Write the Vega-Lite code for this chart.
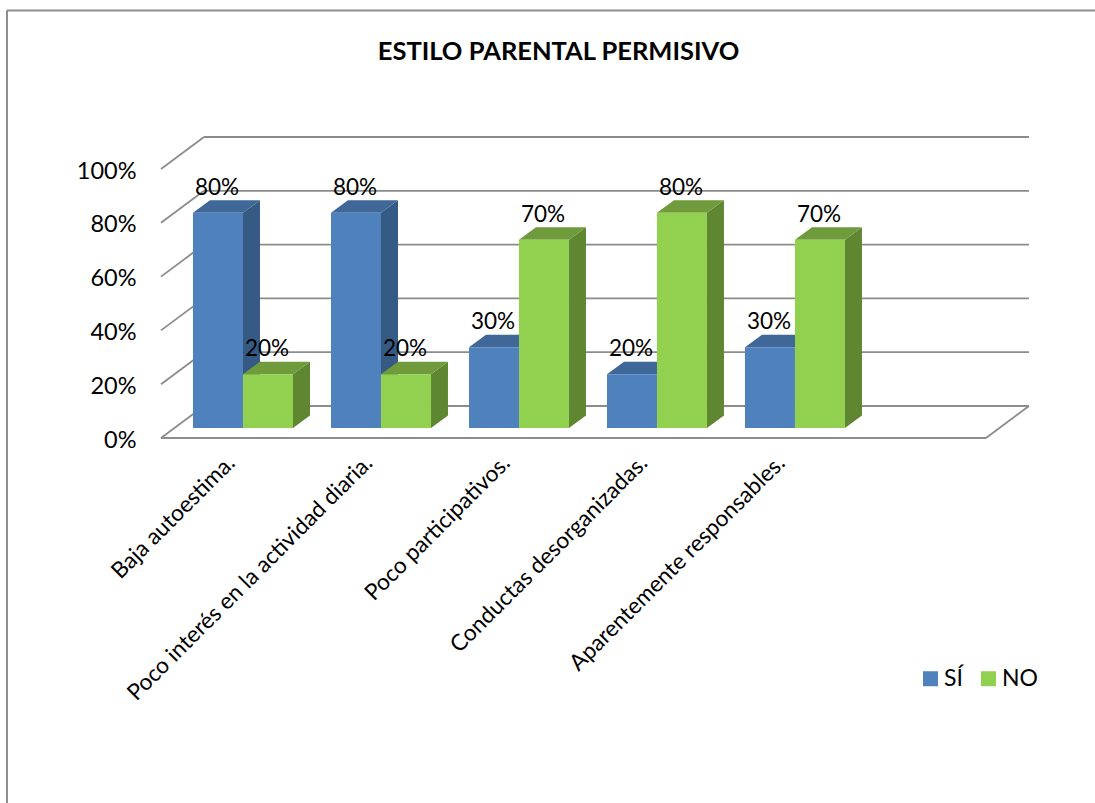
{
"$schema":"https://vega.github.io/schema/vega-lite/v6.json",
"width":825,"height":269,
"autosize":{"type":"none"},
"padding":{"left":161,"top":169,"right":109,"bottom":365},
"background":"white",
"view":{"stroke":null},
"title":{"text":"ESTILO PARENTAL PERMISIVO","font":"Lato","fontSize":25.5,"fontWeight":"bold","color":"black","anchor":"middle","dx":-15,"dy":56,"offset":0,"frame":"group"},
"config":{"text":{"font":"Lato"},"axis":{"grid":false,"domain":false,"ticks":false}},
"data":{"values":[
{"categoria":"Baja autoestima.","i":0,"serie":"SÍ","valor":0.8},
{"categoria":"Baja autoestima.","i":0,"serie":"NO","valor":0.2},
{"categoria":"Poco interés en la actividad diaria.","i":1,"serie":"SÍ","valor":0.8},
{"categoria":"Poco interés en la actividad diaria.","i":1,"serie":"NO","valor":0.2},
{"categoria":"Poco participativos.","i":2,"serie":"SÍ","valor":0.3},
{"categoria":"Poco participativos.","i":2,"serie":"NO","valor":0.7},
{"categoria":"Conductas desorganizadas.","i":3,"serie":"SÍ","valor":0.2},
{"categoria":"Conductas desorganizadas.","i":3,"serie":"NO","valor":0.8},
{"categoria":"Aparentemente responsables.","i":4,"serie":"SÍ","valor":0.3},
{"categoria":"Aparentemente responsables.","i":4,"serie":"NO","valor":0.7}
]},
"transform":[
{"calculate":"0.2327+datum.i*1.0036+(datum.serie==='NO'?0.3636:0)","as":"x0"},
{"calculate":"datum.x0+0.3636","as":"x1"},
{"calculate":"datum.x0+0.1818","as":"xc"},
{"calculate":"0.0372+datum.valor","as":"ytop"}
],
"layer":[
{"data":{"values":[{"t":0},{"t":0.2},{"t":0.4},{"t":0.6},{"t":0.8},{"t":1}]},
 "transform":[{"calculate":"datum.t+0.119","as":"tb"}],
 "mark":{"type":"rule","color":"#8c8c8c","strokeWidth":1.8},
 "encoding":{
  "x":{"datum":0,"type":"quantitative","scale":{"domain":[0,6],"nice":false,"zero":false},
    "axis":{"values":[0.5,1.5,2.5,3.5,4.5],"title":null,"labelAngle":-45,"labelAlign":"right","labelBaseline":"middle","labelPadding":21,"labelOffset":1,"labelFont":"Lato","labelFontSize":22.6,"labelColor":"black","labelOverlap":false,"labelFlush":false,"labelBound":false,"labelLimit":600,
    "labelExpr":"['Baja autoestima.','Poco interés en la actividad diaria.','Poco participativos.','Conductas desorganizadas.','Aparentemente responsables.'][floor(datum.value)]"}},
  "x2":{"datum":0.3127},
  "y":{"field":"t","type":"quantitative","scale":{"domain":[0,1],"nice":false,"zero":false},
    "axis":{"values":[0,0.2,0.4,0.6,0.8,1],"format":".0%","title":null,"labelPadding":25,"labelFont":"Lato","labelFontSize":23.5,"labelColor":"black","labelOffset":2,"labelFlush":false,"labelBound":false}},
  "y2":{"field":"tb"}
 }},
{"data":{"values":[{"t":0},{"t":0.2},{"t":0.4},{"t":0.6},{"t":0.8},{"t":1}]},
 "transform":[{"calculate":"datum.t+0.119","as":"tb"}],
 "mark":{"type":"rule","color":"#8c8c8c","strokeWidth":1.8},
 "encoding":{"x":{"datum":0.3127,"type":"quantitative"},"x2":{"datum":6.3127},"y":{"field":"tb","type":"quantitative"}}},
{"data":{"values":[{"t":0}]},
 "mark":{"type":"rule","color":"#8c8c8c","strokeWidth":1.8},
 "encoding":{"x":{"datum":0,"type":"quantitative"},"x2":{"datum":6},"y":{"field":"t","type":"quantitative"}}},
{"data":{"values":[{"t":0}]},
 "mark":{"type":"rule","color":"#8c8c8c","strokeWidth":1.8},
 "encoding":{"x":{"datum":6,"type":"quantitative"},"x2":{"datum":6.3127},"y":{"field":"t","type":"quantitative"},"y2":{"datum":0.119}}},
{"data":{"values":[{"t":1.589}]},
 "mark":{"type":"rule","color":"#8e8e8e","strokeWidth":2},
 "encoding":{"x":{"datum":-1.12,"type":"quantitative"},"x2":{"datum":6.8},"y":{"field":"t","type":"quantitative"}}},
{"data":{"values":[{"t":1.589}]},
 "mark":{"type":"rule","color":"#8e8e8e","strokeWidth":2},
 "encoding":{"x":{"datum":-1.12,"type":"quantitative"},"y":{"field":"t","type":"quantitative"},"y2":{"datum":-1.36}}},
{"transform":[{"filter":"datum.serie==='SÍ'"},{"calculate":"[0,1]","as":"k"},{"flatten":["k"]},
  {"calculate":"datum.x1+datum.k*0.1236","as":"px"},{"calculate":"0.0372+datum.k*0.0465","as":"py0"},{"calculate":"datum.ytop+datum.k*0.0465","as":"py1"}],
 "mark":{"type":"area","color":"#355a84","orient":"vertical"},
 "encoding":{"x":{"field":"px","type":"quantitative"},"y":{"field":"py1","type":"quantitative","stack":null},"y2":{"field":"py0"},"detail":{"field":"categoria"}}},
{"transform":[{"filter":"datum.serie==='SÍ'"},{"calculate":"[0,1,2,3]","as":"k"},{"flatten":["k"]},
  {"calculate":"datum.x0+[0,0.1236,0.3636,0.4872][datum.k]","as":"px"},{"calculate":"datum.ytop+[0,0,0,0.0465][datum.k]","as":"py0"},{"calculate":"datum.ytop+[0,0.0465,0.0465,0.0465][datum.k]","as":"py1"}],
 "mark":{"type":"area","color":"#3f6797","orient":"vertical"},
 "encoding":{"x":{"field":"px","type":"quantitative"},"y":{"field":"py1","type":"quantitative","stack":null},"y2":{"field":"py0"},"detail":{"field":"categoria"}}},
{"transform":[{"filter":"datum.serie==='NO'"},{"calculate":"[0,1]","as":"k"},{"flatten":["k"]},
  {"calculate":"datum.x1+datum.k*0.1236","as":"px"},{"calculate":"0.0372+datum.k*0.0465","as":"py0"},{"calculate":"datum.ytop+datum.k*0.0465","as":"py1"}],
 "mark":{"type":"area","color":"#5f8631","orient":"vertical"},
 "encoding":{"x":{"field":"px","type":"quantitative"},"y":{"field":"py1","type":"quantitative","stack":null},"y2":{"field":"py0"},"detail":{"field":"categoria"}}},
{"transform":[{"filter":"datum.serie==='NO'"},{"calculate":"[0,1,2,3]","as":"k"},{"flatten":["k"]},
  {"calculate":"datum.x0+[0,0.1236,0.3636,0.4872][datum.k]","as":"px"},{"calculate":"datum.ytop+[0,0,0,0.0465][datum.k]","as":"py0"},{"calculate":"datum.ytop+[0,0.0465,0.0465,0.0465][datum.k]","as":"py1"}],
 "mark":{"type":"area","color":"#6f9b3c","orient":"vertical"},
 "encoding":{"x":{"field":"px","type":"quantitative"},"y":{"field":"py1","type":"quantitative","stack":null},"y2":{"field":"py0"},"detail":{"field":"categoria"}}},
{"mark":{"type":"rect"},
 "encoding":{"x":{"field":"x0","type":"quantitative"},"x2":{"field":"x1"},"y":{"field":"ytop","type":"quantitative"},"y2":{"datum":0.0372},
  "color":{"field":"serie","type":"nominal","scale":{"domain":["SÍ","NO"],"range":["#4f81bd","#92d050"]},
   "legend":{"title":null,"orient":"none","legendX":758,"legendY":498,"direction":"horizontal","columns":2,"symbolType":"square","symbolSize":225,"symbolStrokeWidth":0,"labelFont":"Lato","labelFontSize":23,"labelColor":"black","columnPadding":14,"labelOffset":2}}}},
{"mark":{"type":"text","font":"Lato","fontSize":22.5,"color":"black","dy":-25,"dx":-1,"align":"center","baseline":"middle"},
 "encoding":{"x":{"field":"xc","type":"quantitative"},"y":{"field":"ytop","type":"quantitative"},"text":{"field":"valor","type":"quantitative","format":".0%"}}}
]
}
